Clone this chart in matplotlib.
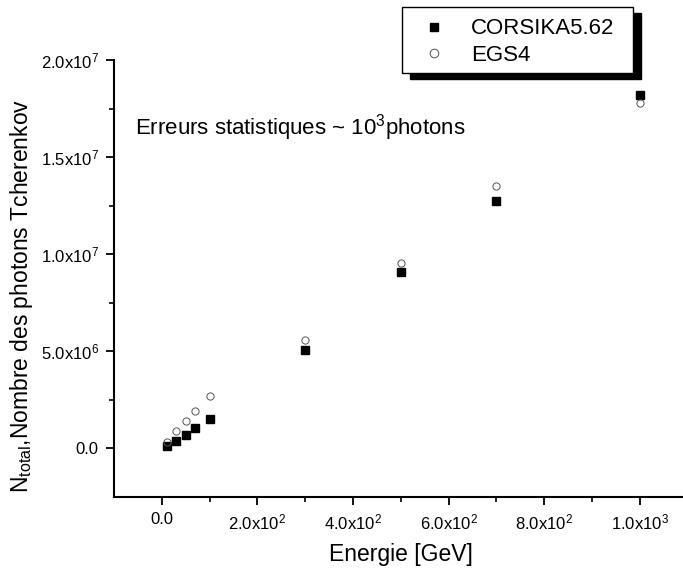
import matplotlib
matplotlib.use("Agg")
import matplotlib.pyplot as plt
from matplotlib.patches import Rectangle
from matplotlib.lines import Line2D

plt.rcParams['font.family'] = ['Liberation Sans', 'DejaVu Sans']
plt.rcParams['mathtext.fontset'] = 'custom'
plt.rcParams['mathtext.rm'] = 'Liberation Sans'
plt.rcParams['mathtext.it'] = 'Liberation Sans:italic'

# energies (GeV) and number of Cherenkov photons
energie = [10, 30, 50, 70, 100, 300, 500, 700, 1000]
corsika = [1.5e5, 3.6e5, 7.1e5, 1.05e6, 1.53e6, 5.05e6, 9.06e6, 1.273e7, 1.82e7]
egs4 = [3.2e5, 8.9e5, 1.41e6, 1.91e6, 2.7e6, 5.57e6, 9.55e6, 1.35e7, 1.777e7]

xticks = [0, 200, 400, 600, 800, 1000]
xticklabels = ["0.0", "2.0x10$^{2}$", "4.0x10$^{2}$", "6.0x10$^{2}$",
               "8.0x10$^{2}$", "1.0x10$^{3}$"]
yticks = [0, 5e6, 1e7, 1.5e7, 2e7]
yticklabels = ["0.0", "5.0x10$^{6}$", "1.0x10$^{7}$", "1.5x10$^{7}$", "2.0x10$^{7}$"]

W, H = 683, 570
fig = plt.figure(figsize=(W / 100, H / 100), dpi=100)
ax = fig.add_axes([114 / W, 1 - 497 / H, (687.5 - 114) / W, (497 - 60) / H])

ax.plot(energie, corsika, ls='none', marker='s', ms=5.2, mfc='black', mec='black',
        label='CORSIKA5.62')
ax.plot(energie, egs4, ls='none', marker='o', ms=5.2, mfc='none', mec='#555555',
        mew=0.7, label='EGS4')

ax.set_xlim(-100, 1100)
ax.set_ylim(-2.5e6, 2.0e7)
ax.set_xticks(xticks)
ax.set_xticklabels(xticklabels)
ax.set_xticks([100, 300, 500, 700, 900], minor=True)
ax.set_yticks(yticks)
ax.set_yticklabels(yticklabels)
ax.set_yticks([2.5e6, 7.5e6, 1.25e7, 1.75e7], minor=True)

for s in ['top', 'right']:
    ax.spines[s].set_visible(False)
for s in ['left', 'bottom']:
    ax.spines[s].set_linewidth(1.5)
ax.tick_params(which='major', direction='out', length=6, width=1.3, labelsize=12, pad=5)
ax.tick_params(which='minor', direction='out', length=3.5, width=1.2)

ax.set_xlabel('Energie [GeV]', fontsize=16.5, labelpad=8)
ax.set_ylabel('N$_{\\mathrm{total}}$,Nombre des photons Tcherenkov', fontsize=16.5)
ax.yaxis.set_label_coords(-0.138, 0.46)

ax.text(-56, 1.65e7, 'Erreurs statistiques ~ 10$^{3}$photons', fontsize=16,
        va='center', ha='left')

# legend box with black drop shadow
bx0, by0, bx1, by1 = 402, 7, 633, 73
fig.patches.append(Rectangle(((bx0 + 8) / W, 1 - (by1 + 6) / H), (bx1 - bx0) / W,
                             (by1 - by0) / H, transform=fig.transFigure,
                             facecolor='black', edgecolor='black', zorder=1))
fig.patches.append(Rectangle((bx0 / W, 1 - by1 / H), (bx1 - bx0) / W, (by1 - by0) / H,
                             transform=fig.transFigure, facecolor='white',
                             edgecolor='black', lw=1.0, zorder=2))
handles = [Line2D([], [], ls='none', marker='s', ms=6.2, mfc='black', mec='black'),
           Line2D([], [], ls='none', marker='o', ms=6.2, mfc='none', mec='#555555', mew=0.7)]
leg = fig.legend(handles, ['CORSIKA5.62', 'EGS4'], loc='upper left',
                 bbox_to_anchor=(398 / W, 1 - 5 / H), frameon=False, fontsize=16,
                 labelspacing=0.25, handlelength=2.0, handletextpad=0.7,
                 borderpad=0.1)
leg.set_zorder(3)

fig.savefig('out.png', dpi=100)
